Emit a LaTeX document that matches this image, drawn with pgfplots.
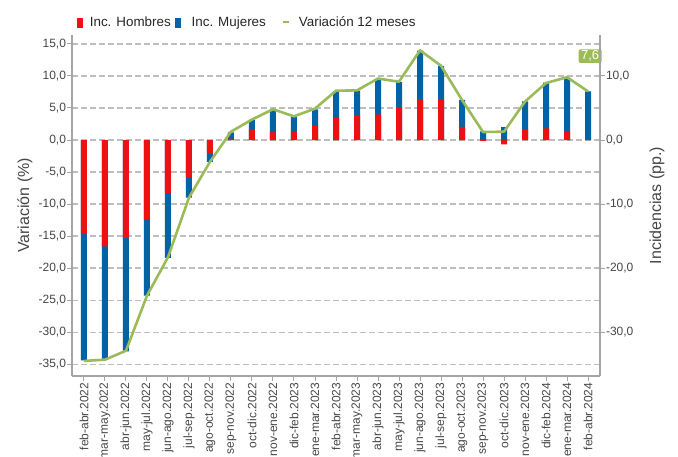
\documentclass[border=0pt]{standalone}
\usepackage{fontspec}
\setmainfont{Liberation Sans}
\usepackage{pgfplots}
\usepackage{pgfplotstable}
\pgfplotsset{compat=1.18}
\definecolor{hred}{RGB}{237,17,20}
\definecolor{mblue}{RGB}{0,99,166}
\definecolor{vgreen}{RGB}{155,187,89}
\definecolor{axgray}{RGB}{165,165,165}
\definecolor{gridgray}{RGB}{190,190,190}
\definecolor{txtgray}{RGB}{70,70,70}

% blue = outer end of the blue segment, red = Inc. Hombres, line = Variacion 12 meses
\pgfplotstableread{
i blue red line
0 -34.4 -14.7 -34.5
1 -34.2 -16.6 -34.3
2 -33.0 -15.3 -32.9
3 -24.3 -12.5 -24.3
4 -18.4 -8.3 -18.3
5 -9.0 -5.8 -9.0
6 -3.4 -2.0 -3.4
7 1.2 0.2 1.3
8 3.2 1.7 3.2
9 4.8 1.3 4.8
10 3.65 1.35 3.7
11 4.8 2.3 4.9
12 7.65 3.55 7.7
13 7.7 3.85 7.75
14 9.5 4.0 9.6
15 9.05 5.1 9.1
16 13.95 6.35 14.0
17 11.55 6.35 11.6
18 6.25 2.05 6.25
19 1.35 -0.15 1.25
20 2.0 -0.7 1.3
21 6.05 1.7 6.0
22 8.95 1.8 8.9
23 9.75 1.35 9.8
24 7.6 0.1 7.6
}\datatable

\pgfplotsset{
  common/.style={
    at={(72pt,81pt)}, anchor=south west,
    scale only axis, width=528pt, height=341pt,
    xmin=-0.571, xmax=24.571, ymin=-36.85, ymax=16.4,
    axis line style={axgray, line width=1.2pt},
    tick style={axgray, line width=1pt},
    major tick length=5pt, tick align=outside,
    /pgf/number format/assume math mode=true,
    yticklabel style={/pgf/number format/.cd, fixed, fixed zerofill, precision=1, use comma, 1000 sep={}, /tikz/.cd,
      font=\fontsize{12}{14}\selectfont, text=txtgray, inner xsep=0.8pt},
  }
}

\begin{document}
\begin{tikzpicture}[x=1pt,y=1pt]
\useasboundingbox (0,0) rectangle (678,457);
\begin{axis}[common, clip=false,
  axis y line*=left, axis x line*=bottom,
  xtick={0,...,24},
  xticklabels={feb-abr.2022,mar-may.2022,abr-jun.2022,may-jul.2022,jun-ago.2022,jul-sep.2022,ago-oct.2022,sep-nov.2022,oct-dic.2022,nov-ene.2022,dic-feb.2023,ene-mar.2023,feb-abr.2023,mar-may.2023,abr-jun.2023,may-jul.2023,jun-ago.2023,jul-sep.2023,ago-oct.2023,sep-nov.2023,oct-dic.2023,nov-ene.2023,dic-feb.2024,ene-mar.2024,feb-abr.2024},
  x tick label style={rotate=90, anchor=east, font=\fontsize{12}{14}\selectfont, text=txtgray, inner xsep=1.5pt},
  ytick={-35,-30,...,15},
  ymajorgrids, grid style={gridgray, dash pattern=on 6pt off 3pt, line width=1.2pt},
  ylabel={Variación (\%)},
  ylabel style={at={(axis description cs:-0.089,0.5)}, anchor=center, font=\fontsize{16}{18}\selectfont, text=txtgray},
  legend style={at={(axis description cs:0.009,1.037)}, anchor=west, draw=none, fill=none,
    font=\fontsize{13.4}{15}\selectfont, text=black!85, inner sep=0pt},
  legend columns=-1,
]
\addlegendimage{legend image code/.code={\fill[hred] (0pt,-4.5pt) rectangle (5.5pt,4.5pt);}}
\addlegendentry{\hspace{5pt}Inc. Hombres\hspace{2pt}\mbox{}}
\addlegendimage{legend image code/.code={\fill[mblue] (0pt,-4.5pt) rectangle (5.5pt,4.5pt);}}
\addlegendentry{\hspace{9pt}Inc. Mujeres\hspace{14pt}\mbox{}}
\addlegendimage{legend image code/.code={\draw[vgreen, line width=2pt] (0pt,0pt) -- (6pt,0pt);}}
\addlegendentry{\hspace{7pt}Variación 12 meses}

\addplot[ybar, bar width=6pt, bar shift=0pt, fill=mblue, draw=none, forget plot] table[x=i,y=blue] {\datatable};
\addplot[ybar, bar width=6pt, bar shift=0pt, fill=hred, draw=none, forget plot] table[x=i,y=red] {\datatable};
\addplot[vgreen, line width=2.6pt, no marks, line join=round, forget plot] table[x=i,y=line] {\datatable};
\node[fill=vgreen, text=white, rounded corners=1.5pt, inner xsep=2.5pt, inner ysep=1.5pt,
  font=\fontsize{13}{14}\selectfont] at (axis cs:24.1,13.1) {7,6};
\end{axis}
\begin{axis}[common,
  axis x line=none, axis y line*=right,
  ytick={-30,-20,...,10},
  ylabel={Incidencias (pp.)},
  ylabel style={at={(axis description cs:1.108,0.5)}, anchor=center, font=\fontsize{16}{18}\selectfont, text=txtgray},
]
\addplot[draw=none, forget plot] coordinates {(0,0)};
\end{axis}
\end{tikzpicture}
\end{document}
